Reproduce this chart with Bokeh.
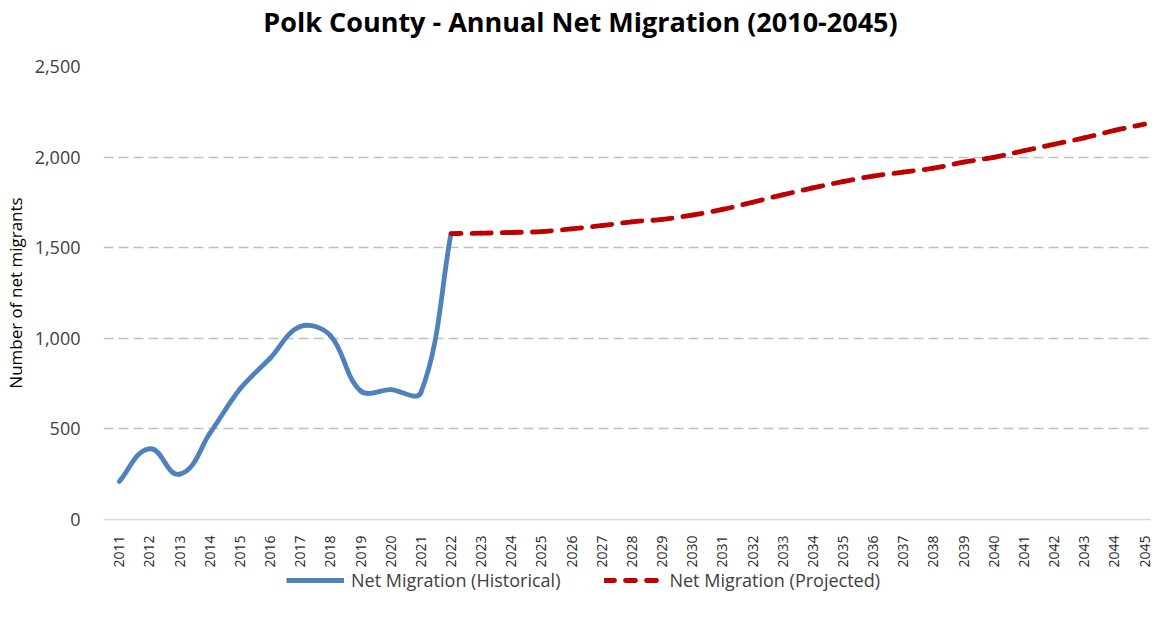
import math
import numpy as np
from bokeh.plotting import figure
from bokeh.layouts import column
from bokeh.models import (Legend, LegendItem, FixedTicker, NumeralTickFormatter,
                          Range1d, ColumnDataSource, Div)
from bokeh.embed import file_html
from bokeh.resources import INLINE

# ---------------- data ----------------
title_text = "Polk County - Annual Net Migration (2010-2045)"
y_label = "Number of net migrants"
hist_label = "Net Migration (Historical)"
proj_label = "Net Migration (Projected)"

hist_years = list(range(2011, 2023))
hist_values = [210, 390, 250, 475, 720, 890, 1065, 1015, 710, 717, 700, 1578]

proj_years = list(range(2022, 2046))
proj_values = [1578, 1580, 1584, 1589, 1604, 1622, 1643, 1656, 1680, 1711, 1751, 1792,
               1830, 1865, 1895, 1917, 1939, 1972, 1999, 2035, 2071, 2106, 2147, 2182]

x_ticks = list(range(2011, 2046))
y_ticks = [0, 500, 1000, 1500, 2000, 2500]

FONT = "Open Sans"
BLUE = "#4f81bd"
RED = "#c00000"

X_START, X_END = 2010.475, 2045.23
FRAME_W, FRAME_H = 1059, 453
Y_MAX = 2500


def smooth_segments(xs, ys, k=1.0 / 3.0):
    """Bezier segments through the data points (spreadsheet-style smoothed line),
    tangents computed in screen proportions, handle length proportional to segment."""
    sx = FRAME_W / (X_END - X_START)
    sy = FRAME_H / Y_MAX
    P = np.column_stack([np.asarray(xs, float) * sx, np.asarray(ys, float) * sy])
    n = len(P)
    U = []
    for i in range(n):
        a = P[max(i - 1, 0)]
        b = P[min(i + 1, n - 1)]
        t = b - a
        U.append(t / np.hypot(*t))
    d = dict(x0=[], y0=[], x1=[], y1=[], cx0=[], cy0=[], cx1=[], cy1=[])
    for i in range(n - 1):
        L = np.hypot(*(P[i + 1] - P[i]))
        c0 = P[i] + U[i] * L * k
        c1 = P[i + 1] - U[i + 1] * L * k
        d["x0"].append(P[i][0] / sx); d["y0"].append(P[i][1] / sy)
        d["x1"].append(P[i + 1][0] / sx); d["y1"].append(P[i + 1][1] / sy)
        d["cx0"].append(c0[0] / sx); d["cy0"].append(c0[1] / sy)
        d["cx1"].append(c1[0] / sx); d["cy1"].append(c1[1] / sy)
    return ColumnDataSource(d)


# ---------------- title ----------------
title_div = Div(text=title_text, width=1151, height=44, margin=(0, 0, 0, 0),
                styles={"font-family": FONT, "font-size": "27px", "font-weight": "bold",
                        "color": "#000000", "text-align": "center", "line-height": "44px",
                        "width": "1151px", "padding-left": "10px", "box-sizing": "border-box"})

# ---------------- main chart ----------------
p = figure(width=1151, height=531,
           x_range=Range1d(X_START, X_END), y_range=Range1d(0, Y_MAX),
           output_backend="svg", toolbar_location=None,
           min_border_left=92, min_border_right=0, min_border_top=22, min_border_bottom=56)
p.outline_line_color = None
p.background_fill_color = "white"
p.border_fill_color = "white"

# x axis
p.xaxis.ticker = FixedTicker(ticks=x_ticks)
p.xaxis.major_label_orientation = math.pi / 2
p.xaxis.major_tick_line_color = None
p.xaxis.minor_tick_line_color = None
p.xaxis.axis_line_color = "#d9d9d9"
p.xaxis.axis_line_width = 1.5
p.xaxis.major_label_text_font = FONT
p.xaxis.major_label_text_font_size = "14px"
p.xaxis.major_label_text_color = "#262626"
p.xaxis.major_label_standoff = 10

# y axis
p.yaxis.ticker = FixedTicker(ticks=y_ticks)
p.yaxis.formatter = NumeralTickFormatter(format="0,0")
p.yaxis.axis_line_color = None
p.yaxis.major_tick_line_color = None
p.yaxis.minor_tick_line_color = None
p.yaxis.major_label_text_font = FONT
p.yaxis.major_label_text_font_size = "18px"
p.yaxis.major_label_text_color = "#404040"
p.yaxis.major_label_standoff = 17
p.yaxis.axis_label = y_label
p.yaxis.axis_label_text_font = FONT
p.yaxis.axis_label_text_font_size = "17px"
p.yaxis.axis_label_text_font_style = "normal"
p.yaxis.axis_label_text_color = "#000000"
p.yaxis.axis_label_standoff = 5

# grid
p.xgrid.grid_line_color = None
p.ygrid.ticker = FixedTicker(ticks=y_ticks[1:])
p.ygrid.grid_line_color = "#bfbfbf"
p.ygrid.grid_line_dash = "10 5"
p.ygrid.grid_line_width = 1.3

# series
p.bezier(x0="x0", y0="y0", x1="x1", y1="y1", cx0="cx0", cy0="cy0", cx1="cx1", cy1="cy1",
         source=smooth_segments(hist_years, hist_values),
         line_color=BLUE, line_width=4.8, line_cap="round")
p.bezier(x0="x0", y0="y0", x1="x1", y1="y1", cx0="cx0", cy0="cy0", cx1="cx1", cy1="cy1",
         source=smooth_segments(proj_years, proj_values),
         line_color=RED, line_width=4.8, line_cap="round", line_dash="10 11")

# ---------------- legend strip ----------------
lg = figure(width=1151, height=36, x_range=Range1d(0, 1), y_range=Range1d(0, 1),
            x_axis_type=None, y_axis_type=None,
            output_backend="svg", toolbar_location=None,
            min_border_left=0, min_border_right=0, min_border_top=0, min_border_bottom=0)
lg.grid.visible = False
lg.outline_line_color = None
lg.background_fill_alpha = 0
lg.border_fill_alpha = 0
lg.margin = (-9, 0, 0, 0)

# legend sample renderers (their points sit outside the visible range)
r_hist = lg.line(x=[-5, -4], y=[-5, -4], line_color=BLUE, line_width=4.8)
r_proj = lg.line(x=[-5, -4], y=[-5, -4], line_color=RED, line_width=4.8,
                 line_dash="10 11", line_cap="round")

legend = Legend(items=[LegendItem(label=hist_label, renderers=[r_hist]),
                       LegendItem(label=proj_label, renderers=[r_proj])],
                orientation="horizontal", location=(183, 10),
                label_text_font=FONT, label_text_font_size="18px",
                label_text_color="#404040",
                glyph_width=58, glyph_height=20, label_standoff=7, spacing=44,
                border_line_color=None, background_fill_alpha=0,
                margin=0, padding=0)
lg.add_layout(legend, "center")

layout = column(title_div, p, lg, spacing=0)
open("out.html", "w").write(file_html(layout, INLINE))
